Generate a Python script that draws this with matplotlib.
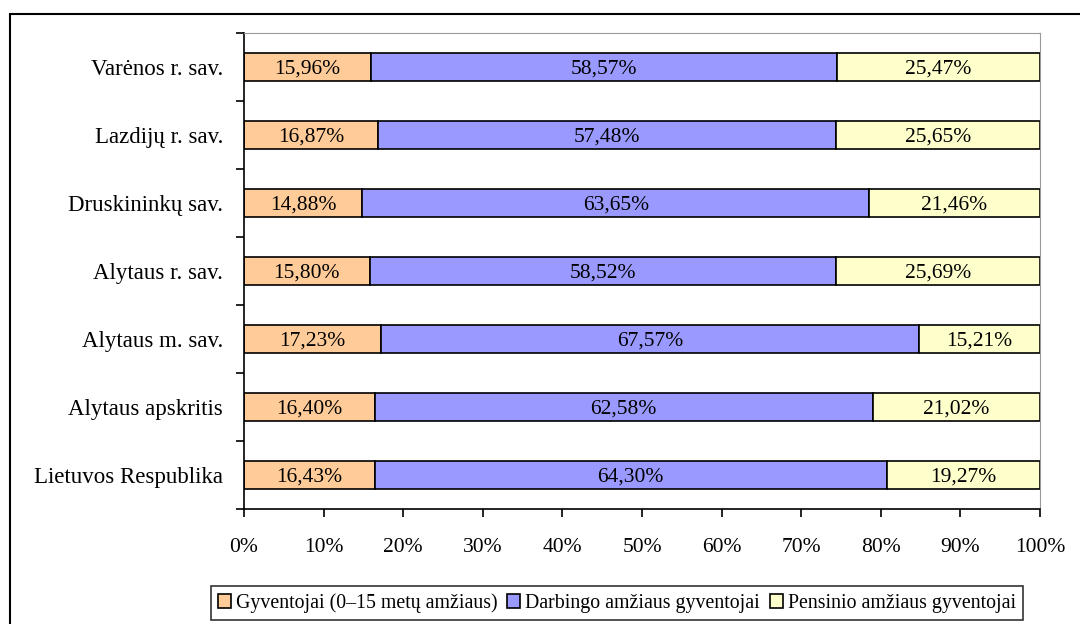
import matplotlib
matplotlib.use('Agg')
import matplotlib.pyplot as plt
from matplotlib.patches import Rectangle
from matplotlib.ticker import FixedLocator, PercentFormatter

plt.rcParams['font.family'] = ['Liberation Serif', 'DejaVu Serif']

regions = ['Lietuvos Respublika', 'Alytaus apskritis', 'Alytaus m. sav.',
           'Alytaus r. sav.', 'Druskininkų sav.', 'Lazdijų r. sav.', 'Varėnos r. sav.']
young = [16.43, 16.40, 17.23, 15.80, 14.88, 16.87, 15.96]
working = [64.30, 62.58, 67.57, 58.52, 63.65, 57.48, 58.57]
pension = [19.27, 21.02, 15.21, 25.69, 21.46, 25.65, 25.47]

series_names = ['Gyventojai (0–15 metų amžiaus)', 'Darbingo amžiaus gyventojai',
                'Pensinio amžiaus gyventojai']
colors = ['#FFCC99', '#9999FF', '#FFFFCC']

fig = plt.figure(figsize=(10.8, 6.24), dpi=100)
ax = fig.add_axes([244 / 1080, 1 - 509 / 624, (1040 - 244) / 1080, (509 - 33) / 624])

# outer frame of the chart object
fig.patches.append(Rectangle((10 / 1080, -0.2), 2, 1.2 - 14 / 624, transform=fig.transFigure,
                             fill=False, edgecolor='black', linewidth=1.5))

pos = list(range(len(regions)))
left = [0] * len(regions)
for vals, name, col in zip([young, working, pension], series_names, colors):
    bars = ax.barh(pos, vals, left=left, height=0.4, color=col, edgecolor='black',
                   linewidth=1.2, label=name)
    for b, v in zip(bars, vals):
        ax.text(b.get_x() + b.get_width() / 2, b.get_y() + b.get_height() / 2,
                f'{v:.2f}%'.replace('.', ','), ha='center', va='center_baseline',
                fontsize=15.5)
    left = [l + v for l, v in zip(left, vals)]

ax.set_xlim(0, 100)
ax.set_ylim(-0.5, len(regions) - 0.5)
ax.xaxis.set_major_locator(FixedLocator(range(0, 101, 10)))
ax.xaxis.set_major_formatter(PercentFormatter(decimals=0))
ax.set_yticks(pos)
ax.set_yticklabels(regions)
ax.yaxis.set_minor_locator(FixedLocator([p - 0.5 for p in pos] + [len(regions) - 0.5]))
ax.tick_params(axis='y', which='major', length=0, pad=15, labelsize=16.5)
ax.tick_params(axis='y', which='minor', length=6, width=1.2, direction='out')
ax.tick_params(axis='x', length=6, width=1.2, direction='out', pad=15, labelsize=15.5)

for s in ['top', 'right']:
    ax.spines[s].set_color('#999999')
for s in ['left', 'bottom']:
    ax.spines[s].set_color('black')
    ax.spines[s].set_linewidth(1.2)

leg = fig.legend(loc='center', bbox_to_anchor=(617 / 1080, 1 - 603 / 624), ncol=3,
                 fontsize=14.3, frameon=True, fancybox=False, handlelength=0.65,
                 handleheight=0.65, handletextpad=0.25, columnspacing=0.5,
                 borderpad=0.35, borderaxespad=0)
leg.get_frame().set_edgecolor('black')
leg.get_frame().set_linewidth(1.2)

fig.savefig('out.png', dpi=100)
